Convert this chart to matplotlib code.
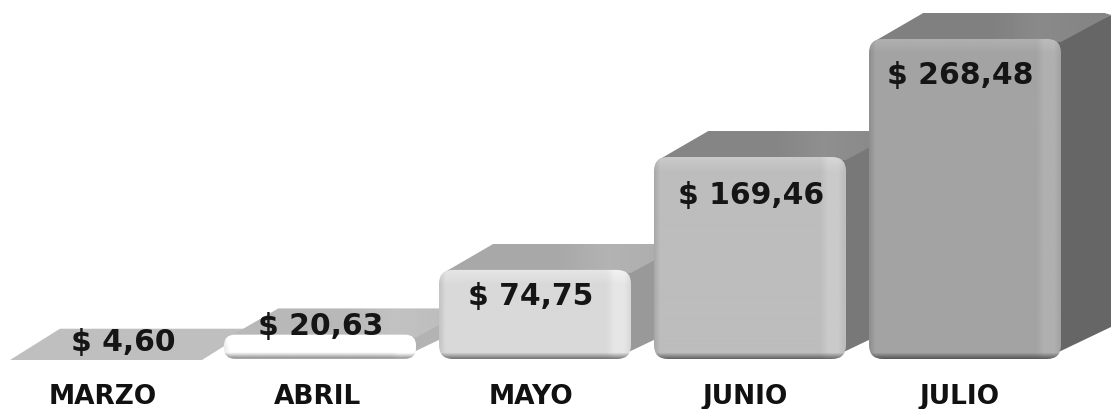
import numpy as np
import matplotlib
matplotlib.use('Agg')
import matplotlib.pyplot as plt
from matplotlib.patches import FancyBboxPatch, Polygon

months = ['MARZO', 'ABRIL', 'MAYO', 'JUNIO', 'JULIO']
values = [4.60, 20.63, 74.75, 169.46, 268.48]
value_labels = ['$ 4,60', '$ 20,63', '$ 74,75', '$ 169,46', '$ 268,48']

# greys per bar: front, top, side
front_grey = [0.75, 1.00, 0.85, 0.74, 0.64]
top_grey = [0.75, 0.72, 0.66, 0.52, 0.50]
side_grey = [0.75, 0.70, 0.60, 0.47, 0.40]

# label offset from bar top, in pixels
label_dx = [18, 1, -4, 1, -5]
label_dy = [12, 9, -26, -37, -36]

W, H = 1112, 410
px_x = 215.0     # pixels between bars
px_y = 1.192     # pixels per dollar
x0 = 105.0
y0 = 360.0
depth_x = 50 / px_x
depth_y = 26 / px_y

fig = plt.figure(figsize=(W / 100, H / 100), dpi=100)
ax = fig.add_axes([0, 0, 1, 1])
ax.set_xlim(-x0 / px_x, (W - x0) / px_x)
ax.set_ylim(-(H - y0) / px_y, y0 / px_y)
ax.axis('off')


def front_image(grey, h, w):
    # little shaded face: light rim at top and right, dark rim at the bottom
    img = np.full((h, w), grey)
    rim_top = np.clip(1 - np.arange(h) / 14.0, 0, 1)
    img += 0.05 * rim_top[:, None]
    right = np.clip((np.arange(w) - (w - 26)) / 8.0, 0, 1) * np.clip((w - 2 - np.arange(w)) / 6.0, 0, 1)
    img += 0.05 * right[None, :]
    left = np.clip(1 - np.arange(w) / 6.0, 0, 1)
    img -= 0.08 * left[None, :]
    bottom = np.clip((np.arange(h) - (h - 7)) / 6.0, 0, 1)
    img = img * (1 - 0.45 * bottom[:, None])
    return np.clip(img, 0, 1)


bars = ax.bar(range(len(values)), values, width=192 / px_x, color='none', zorder=1)

for i, rect in enumerate(bars):
    l = rect.get_x()
    r = l + rect.get_width()
    t = rect.get_height()
    z = 2 + i * 3
    if i == 0:
        # almost no height, only a flat shape is visible
        s = 1 / px_x
        ax.add_patch(Polygon([(l + s, -1 / px_y), (r + s, -1 / px_y), (r + s + depth_x, t + depth_y - 1),
                              (l + s + depth_x, t + depth_y - 1)],
                             facecolor=(top_grey[i],) * 3, edgecolor='none', zorder=z))
        continue
    g = side_grey[i]
    ax.add_patch(Polygon([(r - 0.04, 4 / px_y), (r + depth_x, 6 / px_y + depth_y), (r + depth_x, t + depth_y - 2 / px_y),
                          (r - 0.04, t - 4 / px_y)],
                         facecolor=(g, g, g), edgecolor='none', zorder=z))
    # top face with a soft gradient going to the right
    g = top_grey[i]
    top = Polygon([(l + 0.02, t - 3 / px_y), (r, t - 3 / px_y), (r + depth_x, t + depth_y - 2 / px_y),
                   (r + depth_x - 0.03, t + depth_y), (l + depth_x + 0.02, t + depth_y)],
                  facecolor='none', edgecolor='none', zorder=z)
    ax.add_patch(top)
    im = ax.imshow(np.array([[g, g, g, g + 0.04, g + 0.02]]), cmap='gray', vmin=0, vmax=1, aspect='auto',
                   extent=(l, r + depth_x, t - 3 / px_y, t + depth_y), zorder=z, interpolation='bilinear')
    im.set_clip_path(top)
    # rounded front
    rad = 14 / px_x
    patch = FancyBboxPatch((l + rad, rad * px_x / px_y), r - l - 2 * rad, t - 2 * rad * px_x / px_y,
                           boxstyle='round,pad=%f,rounding_size=%f' % (rad, rad),
                           mutation_aspect=px_x / px_y, facecolor='none', edgecolor='none', zorder=z + 1)
    if t * px_y < 30:
        patch = FancyBboxPatch((l + 0.05, 11 / px_y), r - l - 0.1, max(t - 22 / px_y, 0.01),
                               boxstyle='round,pad=0.05,rounding_size=0.05',
                               mutation_aspect=px_x / px_y, facecolor='none', edgecolor='none', zorder=z + 1)
    ax.add_patch(patch)
    h_px = max(int(t * px_y), 8)
    w_px = int((r - l) * px_x)
    im = ax.imshow(front_image(front_grey[i], h_px, w_px), cmap='gray', vmin=0, vmax=1, aspect='auto',
                   extent=(l, r, 0, t), zorder=z + 1, interpolation='bilinear')
    im.set_clip_path(patch)

ax.set_xlim(-x0 / px_x, (W - x0) / px_x)
ax.set_ylim(-(H - y0) / px_y, y0 / px_y)

for i, txt in enumerate(value_labels):
    ax.annotate(txt, (i, values[i]), xytext=(label_dx[i], label_dy[i]), textcoords='offset pixels',
                ha='center', va='center', fontsize=21.5, fontweight='bold', family='DejaVu Sans',
                color='#151515', zorder=30)

for i, m in enumerate(months):
    ax.text(i - 2 / px_x - 0.004 * i, -44 / px_y, m, ha='center', va='baseline', fontsize=19, fontweight='bold',
            family='DejaVu Sans', color='#111111', zorder=30)

plt.savefig('out.png', dpi=100)
